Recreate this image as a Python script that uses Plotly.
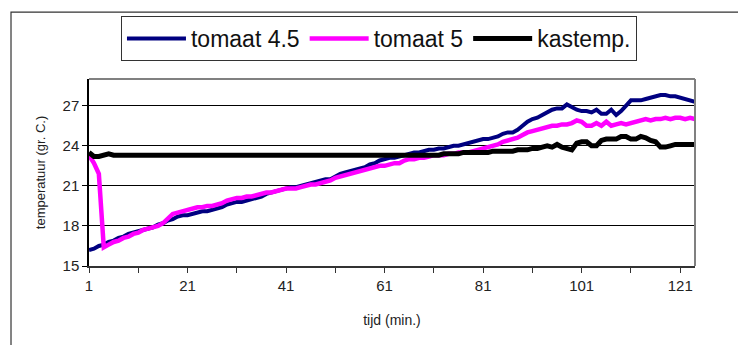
import plotly.graph_objects as go

# time axis: minute index 1..124
tijd = list(range(1, 125))

tomaat_45 = [
    16.2, 16.3, 16.5, 16.6, 16.8, 16.9, 17.1, 17.2, 17.4, 17.5,
    17.6, 17.7, 17.8, 17.9, 18.1, 18.2, 18.4, 18.5, 18.7, 18.8,
    18.8, 18.9, 19.0, 19.1, 19.1, 19.2, 19.3, 19.4, 19.6, 19.7,
    19.8, 19.8, 19.9, 20.0, 20.1, 20.2, 20.4, 20.5, 20.6, 20.7,
    20.8, 20.9, 20.9, 21.0, 21.1, 21.2, 21.3, 21.4, 21.5, 21.5,
    21.7, 21.9, 22.0, 22.1, 22.2, 22.3, 22.4, 22.6, 22.7, 22.9,
    23.0, 23.1, 23.1, 23.2, 23.3, 23.4, 23.5, 23.5, 23.6, 23.7,
    23.7, 23.8, 23.8, 23.9, 24.0, 24.0, 24.1, 24.2, 24.3, 24.4,
    24.5, 24.5, 24.6, 24.7, 24.9, 25.0, 25.0, 25.2, 25.5, 25.8,
    26.0, 26.1, 26.3, 26.5, 26.7, 26.8, 26.8, 27.1, 26.9, 26.7,
    26.6, 26.6, 26.5, 26.7, 26.4, 26.4, 26.7, 26.3, 26.6, 27.0,
    27.4, 27.4, 27.4, 27.5, 27.6, 27.7, 27.8, 27.8, 27.7, 27.7,
    27.6, 27.5, 27.4, 27.3,
]

tomaat_5 = [
    23.3, 22.7, 21.9, 16.4, 16.6, 16.8, 16.9, 17.1, 17.2, 17.4,
    17.5, 17.7, 17.8, 17.9, 18.0, 18.2, 18.6, 18.9, 19.0, 19.1,
    19.2, 19.3, 19.4, 19.4, 19.5, 19.5, 19.6, 19.7, 19.9, 20.0,
    20.1, 20.1, 20.2, 20.2, 20.3, 20.4, 20.5, 20.5, 20.6, 20.7,
    20.8, 20.8, 20.8, 20.9, 21.0, 21.1, 21.1, 21.2, 21.3, 21.4,
    21.6, 21.7, 21.8, 21.9, 22.0, 22.1, 22.2, 22.3, 22.4, 22.5,
    22.5, 22.6, 22.7, 22.7, 22.9, 23.0, 23.0, 23.1, 23.1, 23.2,
    23.3, 23.3, 23.3, 23.4, 23.4, 23.5, 23.5, 23.5, 23.6, 23.7,
    23.8, 23.9, 24.0, 24.1, 24.3, 24.4, 24.5, 24.6, 24.8, 25.0,
    25.1, 25.2, 25.3, 25.4, 25.5, 25.5, 25.6, 25.6, 25.7, 25.9,
    25.8, 25.5, 25.5, 25.7, 25.5, 25.8, 25.5, 25.6, 25.7, 25.6,
    25.7, 25.8, 25.9, 26.0, 25.9, 26.0, 26.0, 26.1, 26.0, 26.1,
    26.1, 26.0, 26.1, 26.0,
]

kastemp = [
    23.5, 23.2, 23.2, 23.3, 23.4, 23.3, 23.3, 23.3, 23.3, 23.3,
    23.3, 23.3, 23.3, 23.3, 23.3, 23.3, 23.3, 23.3, 23.3, 23.3,
    23.3, 23.3, 23.3, 23.3, 23.3, 23.3, 23.3, 23.3, 23.3, 23.3,
    23.3, 23.3, 23.3, 23.3, 23.3, 23.3, 23.3, 23.3, 23.3, 23.3,
    23.3, 23.3, 23.3, 23.3, 23.3, 23.3, 23.3, 23.3, 23.3, 23.3,
    23.3, 23.3, 23.3, 23.3, 23.3, 23.3, 23.3, 23.3, 23.3, 23.3,
    23.3, 23.3, 23.3, 23.3, 23.3, 23.3, 23.3, 23.3, 23.3, 23.3,
    23.3, 23.3, 23.4, 23.4, 23.4, 23.4, 23.5, 23.5, 23.5, 23.5,
    23.5, 23.5, 23.6, 23.6, 23.6, 23.6, 23.6, 23.7, 23.7, 23.7,
    23.8, 23.8, 23.9, 24.0, 23.9, 24.1, 23.9, 23.8, 23.7, 24.2,
    24.3, 24.3, 24.0, 24.0, 24.4, 24.5, 24.5, 24.5, 24.7, 24.7,
    24.5, 24.5, 24.7, 24.6, 24.4, 24.3, 23.9, 23.9, 24.0, 24.1,
    24.1, 24.1, 24.1, 24.1,
]

x_ticks = [1, 21, 41, 61, 81, 101, 121]
y_ticks = [15, 18, 21, 24, 27]

FONT = "Arial, Liberation Sans, sans-serif"

fig = go.Figure()
fig.add_trace(go.Scatter(x=tijd, y=tomaat_45, mode="lines", name="tomaat 4.5",
                         line=dict(color="#000080", width=4)))
fig.add_trace(go.Scatter(x=tijd, y=tomaat_5, mode="lines", name="tomaat 5",
                         line=dict(color="#FF00FF", width=4.5)))
fig.add_trace(go.Scatter(x=tijd, y=kastemp, mode="lines", name="kastemp.",
                         line=dict(color="#000000", width=5)))

fig.update_layout(
    width=738, height=345,
    margin=dict(l=89, r=43, t=79, b=79),
    paper_bgcolor="white", plot_bgcolor="white",
    font=dict(family=FONT, color="#222222"),
    showlegend=True,
    legend=dict(
        orientation="h",
        x=0.4785, xanchor="center",
        y=1.337, yanchor="top",
        font=dict(size=23, family=FONT, color="#111111"),
        bordercolor="#333333", borderwidth=1,
        bgcolor="white",
        itemwidth=59,
        tracegroupgap=0,
    ),
    xaxis=dict(
        range=[1, 124], tickvals=x_ticks, ticktext=[str(v) for v in x_ticks],
        ticks="outside", ticklen=5, tickcolor="#333333",
        minor=dict(tick0=1, dtick=10, ticks="outside", ticklen=5, tickcolor="#333333"),
        showgrid=False, zeroline=False,
        showline=True, linecolor="#333333", linewidth=1.5,
        tickfont=dict(size=15, family=FONT),
        title=dict(text="tijd (min.)", font=dict(size=14, family=FONT), standoff=22),
    ),
    yaxis=dict(
        range=[15, 29], tickvals=y_ticks,
        ticks="outside", ticklen=5, tickcolor="#000000",
        showgrid=True, gridcolor="#000000", gridwidth=1,
        zeroline=False,
        showline=True, linecolor="#000000", linewidth=1.5,
        tickfont=dict(size=15, family=FONT),
        title=dict(text="temperatuur (gr. C.)", font=dict(size=13, family=FONT), standoff=14),
    ),
)

# grey frame on the top and right of the plotting area
fig.add_shape(type="line", xref="paper", yref="paper", x0=0, x1=1, y0=1, y1=1,
              line=dict(color="#808080", width=2))
fig.add_shape(type="line", xref="paper", yref="paper", x0=1, x1=1, y0=0, y1=1,
              line=dict(color="#808080", width=2))
# outer chart border
fig.add_shape(type="rect", xref="paper", yref="paper",
              x0=-0.1287, x1=1.08, y0=-0.46, y1=1.358,
              line=dict(color="#333333", width=1.2), layer="below")

fig.write_html("out.html")
